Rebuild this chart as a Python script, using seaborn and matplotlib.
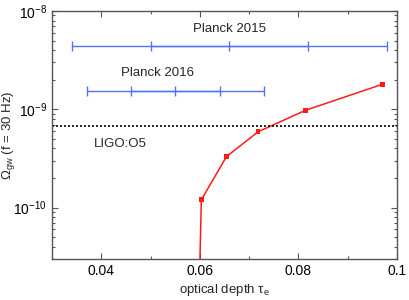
import numpy as np
import pandas as pd
import matplotlib
matplotlib.use("Agg")
import matplotlib.pyplot as plt
import matplotlib.ticker as mticker
import seaborn as sns

# red curve: Omega_gw at 30 Hz vs optical depth
tau_e = [0.0598, 0.0603, 0.0654, 0.0718, 0.0815, 0.0971]
omega_gw = [1e-11, 1.2e-10, 3.3e-10, 5.9e-10, 9.8e-10, 1.8e-9]
marked = [False, True, True, True, True, True]

# Planck constraints: centre, 1 sigma, y level
planck_labels = ["Planck 2015", "Planck 2016"]
planck_tau = [0.066, 0.055]
planck_sigma = [0.016, 0.009]
planck_y = [4.4e-9, 1.55e-9]

ligo_o5 = 6.8e-10

sns.set_style("ticks")
plt.rcParams["font.family"] = ["Liberation Sans", "DejaVu Sans"]
plt.rcParams["mathtext.fontset"] = "custom"
plt.rcParams["mathtext.rm"] = "Liberation Sans"
plt.rcParams["mathtext.it"] = "Liberation Sans"

fig = plt.figure(figsize=(4.09, 3.00), dpi=100)
ax = fig.add_axes([52 / 409, 1 - 259 / 300, 345 / 409, 248 / 300])

df = pd.DataFrame({"tau": tau_e, "omega": omega_gw, "marked": marked})
sns.lineplot(data=df, x="tau", y="omega", color="#ff1a1a", lw=1.1, ax=ax)
sns.scatterplot(data=df[df["marked"]], x="tau", y="omega", color="#ff1a1a",
                marker="s", s=12, edgecolor="none", ax=ax, zorder=3)

blue = "#5273f2"
for lab, t, s, y in zip(planck_labels, planck_tau, planck_sigma, planck_y):
    ax.errorbar([t], [y], xerr=[2 * s], fmt="none", ecolor=blue, elinewidth=1.0,
                capsize=3.5, capthick=1.0)
    ax.errorbar([t], [y], xerr=[s], fmt="none", ecolor=blue, elinewidth=1.0,
                capsize=3.5, capthick=1.0)
    ax.plot([t], [y], marker="|", ms=7, color=blue, mew=1.0)

ax.text(0.066, 6.6e-9, planck_labels[0], ha="center", va="center", fontsize=9.5)
ax.text(0.0515, 2.35e-9, planck_labels[1], ha="center", va="center", fontsize=9.5)

ax.axhline(ligo_o5, color="black", ls=(0, (1.2, 1.2)), lw=1.2)
ax.text(0.0385, 4.4e-10, "LIGO:O5", ha="left", va="center", fontsize=9.5)

ax.set_yscale("log")
ax.set_xlim(0.03, 0.1)
ax.set_ylim(3e-11, 1e-8)
ax.set_xticks([0.04, 0.06, 0.08, 0.1])
ax.set_xticklabels(["0.04", "0.06", "0.08", "0.1"])
ax.xaxis.set_minor_locator(mticker.MultipleLocator(0.01))
ax.yaxis.set_major_locator(mticker.LogLocator(base=10, numticks=10))
ax.yaxis.set_minor_locator(mticker.LogLocator(base=10, subs=np.arange(2, 10), numticks=10))
ax.yaxis.set_minor_formatter(mticker.NullFormatter())

ax.set_xlabel(r"optical depth $\tau_\mathrm{e}$", fontsize=9.5, labelpad=3)
ax.set_ylabel(r"$\Omega_\mathrm{gw}$ (f = 30 Hz)", fontsize=9.5)
ax.yaxis.set_label_coords(-0.102, 0.5)

for sp in ax.spines.values():
    sp.set_visible(True)
    sp.set_color("#555555")
    sp.set_linewidth(1.0)
ax.tick_params(which="both", direction="in", top=True, right=True,
               colors="#555555", labelcolor="black", labelsize=10)
ax.tick_params(which="major", length=4, width=0.8)
ax.tick_params(which="minor", length=2.5, width=0.8)

fig.savefig("out.png", dpi=100)
